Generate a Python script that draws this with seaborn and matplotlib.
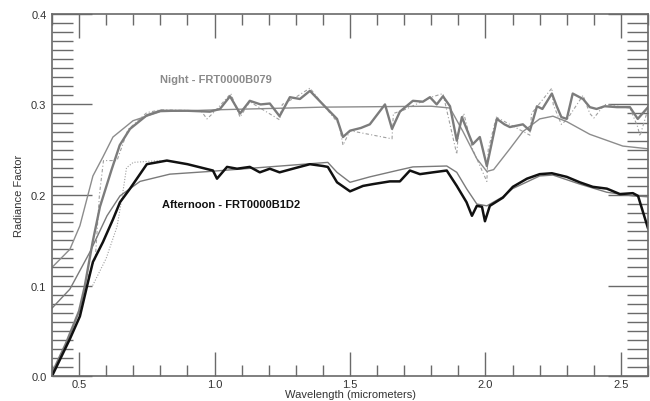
import numpy as np
import pandas as pd
import seaborn as sns
import matplotlib
matplotlib.use("Agg")
import matplotlib.pyplot as plt
from matplotlib.ticker import MultipleLocator

# ---------------- data ----------------
night_x = [0.40, 0.45, 0.50, 0.52, 0.55, 0.577, 0.62, 0.65, 0.688, 0.75, 0.80, 0.90, 0.983,
           1.02, 1.057, 1.094, 1.13, 1.17, 1.204, 1.24, 1.278, 1.315, 1.352, 1.40, 1.452,
           1.474, 1.50, 1.54, 1.573, 1.629, 1.655, 1.684, 1.732, 1.769, 1.795, 1.82, 1.843,
           1.869, 1.894, 1.913, 1.953, 1.979, 2.005, 2.042, 2.07, 2.09, 2.138, 2.164, 2.19,
           2.21, 2.245, 2.263, 2.28, 2.30, 2.322, 2.36, 2.385, 2.41, 2.44, 2.485, 2.533,
           2.562, 2.60]
night_y = [0.003, 0.035, 0.072, 0.098, 0.148, 0.187, 0.228, 0.255, 0.273, 0.288, 0.293, 0.293, 0.292,
           0.295, 0.309, 0.290, 0.304, 0.300, 0.301, 0.287, 0.308, 0.306, 0.315, 0.300, 0.284,
           0.264, 0.271, 0.274, 0.278, 0.300, 0.273, 0.292, 0.304, 0.303, 0.308, 0.300, 0.309,
           0.298, 0.260, 0.286, 0.256, 0.264, 0.232, 0.284, 0.278, 0.275, 0.278, 0.271, 0.298,
           0.295, 0.312, 0.298, 0.286, 0.284, 0.312, 0.306, 0.297, 0.295, 0.298, 0.297, 0.297,
           0.284, 0.297]

night_model_x = [0.40, 0.466, 0.503, 0.551, 0.588, 0.625, 0.699, 0.80, 1.00, 1.40, 1.80, 1.869,
                 1.917, 1.968, 2.005, 2.03, 2.09, 2.138, 2.20, 2.249, 2.30, 2.385, 2.507, 2.60]
night_model_y = [0.120, 0.140, 0.166, 0.221, 0.242, 0.264, 0.282, 0.292, 0.294, 0.297, 0.298, 0.296,
                 0.270, 0.240, 0.226, 0.228, 0.251, 0.270, 0.284, 0.287, 0.281, 0.267, 0.254, 0.251]

aft_x = [0.40, 0.466, 0.503, 0.533, 0.551, 0.588, 0.625, 0.651, 0.688, 0.75, 0.824, 0.90, 0.994,
         1.009, 1.046, 1.083, 1.13, 1.167, 1.204, 1.24, 1.289, 1.352, 1.40, 1.418, 1.452,
         1.50, 1.548, 1.585, 1.647, 1.684, 1.721, 1.758, 1.806, 1.857, 1.894, 1.93, 1.95,
         1.968, 1.987, 1.998, 2.016, 2.064, 2.101, 2.153, 2.20, 2.245, 2.30, 2.348, 2.396,
         2.448, 2.496, 2.544, 2.563, 2.60]
aft_y = [0.000, 0.041, 0.066, 0.104, 0.126, 0.148, 0.173, 0.192, 0.207, 0.234, 0.238, 0.234, 0.227,
         0.218, 0.231, 0.229, 0.231, 0.225, 0.229, 0.225, 0.229, 0.234, 0.232, 0.231, 0.214,
         0.204, 0.210, 0.212, 0.215, 0.215, 0.227, 0.223, 0.225, 0.227, 0.210, 0.192, 0.177,
         0.188, 0.187, 0.171, 0.188, 0.197, 0.209, 0.218, 0.223, 0.224, 0.220, 0.214, 0.209,
         0.207, 0.201, 0.202, 0.199, 0.163]

aft_model_x = [0.40, 0.466, 0.54, 0.603, 0.651, 0.725, 0.835, 0.983, 1.20, 1.418, 1.452, 1.50,
               1.573, 1.673, 1.732, 1.857, 1.894, 1.93, 1.968, 2.005, 2.064, 2.10, 2.20, 2.249,
               2.348, 2.448, 2.544, 2.60]
aft_model_y = [0.075, 0.096, 0.137, 0.177, 0.199, 0.215, 0.223, 0.226, 0.231, 0.236, 0.225, 0.214,
               0.220, 0.227, 0.231, 0.232, 0.225, 0.207, 0.190, 0.188, 0.198, 0.207, 0.221, 0.222,
               0.212, 0.203, 0.199, 0.198]

alt1_x = [0.52, 0.56, 0.575, 0.59, 0.64, 0.68, 0.75, 0.80, 0.95, 0.972, 1.00, 1.06, 1.094,
          1.13, 1.24, 1.25, 1.30, 1.352, 1.40, 1.46, 1.474, 1.50, 1.655, 1.66, 1.70, 1.80,
          1.843, 1.894, 1.90, 1.92, 1.953, 2.005, 2.01, 2.04, 2.164, 2.17, 2.245, 2.25, 2.28,
          2.30, 2.36, 2.385, 2.40, 2.44, 2.533, 2.562, 2.57, 2.60]
alt1_y = [0.100, 0.130, 0.200, 0.238, 0.238, 0.272, 0.291, 0.294, 0.293, 0.284, 0.292, 0.312, 0.286,
          0.303, 0.283, 0.300, 0.308, 0.318, 0.300, 0.278, 0.255, 0.271, 0.262, 0.290, 0.294, 0.308,
          0.312, 0.245, 0.270, 0.290, 0.250, 0.215, 0.250, 0.286, 0.266, 0.290, 0.318, 0.300, 0.278,
          0.283, 0.310, 0.290, 0.285, 0.300, 0.296, 0.275, 0.265, 0.295]

alt2_x = [0.55, 0.60, 0.64, 0.66, 0.675, 0.70, 0.75, 0.80]
alt2_y = [0.100, 0.130, 0.165, 0.200, 0.230, 0.236, 0.237, 0.238]

x_ticks = [0.5, 1.0, 1.5, 2.0, 2.5]
x_tick_labels = ["0.5", "1.0", "1.5", "2.0", "2.5"]
y_ticks = [0.0, 0.1, 0.2, 0.3, 0.4]
y_tick_labels = ["0.0", "0.1", "0.2", "0.3", "0.4"]

night_label = "Night - FRT0000B079"
aft_label = "Afternoon - FRT0000B1D2"

# ---------------- plot ----------------
sns.set_style("white")
plt.rcParams["font.family"] = ["Liberation Sans", "DejaVu Sans"]

fig = plt.figure(figsize=(6.5, 4.02), dpi=100)
ax = fig.add_axes([0.08, 0.062, 0.917, 0.901])

def draw(x, y, **kw):
    df = pd.DataFrame({"x": x, "y": y})
    sns.lineplot(data=df, x="x", y="y", ax=ax, sort=False, estimator=None, **kw)

draw(alt1_x, alt1_y, color="#a0a0a0", linewidth=0.8, linestyle=(0, (3, 2, 1, 2)))
draw(alt2_x, alt2_y, color="#a0a0a0", linewidth=0.8, linestyle=(0, (1, 1.5)))
draw(night_model_x, night_model_y, color="#8c8c8c", linewidth=1.0)
draw(aft_model_x, aft_model_y, color="#7a7a7a", linewidth=1.0)
draw(night_x, night_y, color="#7c7c7c", linewidth=1.7)
draw(aft_x, aft_y, color="#111111", linewidth=1.8)

ax.text(0.798, 0.328, night_label, color="#8a8a8a", fontsize=8, fontweight="bold",
        va="center", ha="left")
ax.text(0.806, 0.190, aft_label, color="#111111", fontsize=8, fontweight="bold",
        va="center", ha="left")

ax.set_xlim(0.4, 2.6)
ax.set_ylim(0.0, 0.4)
ax.set_xticks(x_ticks)
ax.set_xticklabels(x_tick_labels)
ax.set_yticks(y_ticks)
ax.set_yticklabels(y_tick_labels)
ax.xaxis.set_minor_locator(MultipleLocator(0.1))
ax.yaxis.set_minor_locator(MultipleLocator(0.01))

spine_c = "#6a6a6a"
for s in ax.spines.values():
    s.set_visible(True)
    s.set_color(spine_c)
    s.set_linewidth(1.2)

ax.tick_params(axis="x", which="major", direction="in", length=17, width=1.0, color=spine_c,
               top=True, bottom=True, labelsize=8, labelcolor="#333333", pad=2)
ax.tick_params(axis="x", which="minor", direction="in", length=8, width=1.0, color=spine_c,
               top=True, bottom=True)
ax.tick_params(axis="y", which="major", direction="in", length=29, width=1.0, color=spine_c,
               left=True, right=True, labelsize=8, labelcolor="#333333", pad=4)
ax.tick_params(axis="y", which="minor", direction="in", length=15, width=1.0, color=spine_c,
               left=True, right=True)

ax.set_xlabel("Wavelength (micrometers)", fontsize=8, color="#333333", labelpad=0)
ax.set_ylabel("Radiance Factor", fontsize=8, color="#333333", labelpad=5)

fig.savefig("out.png", dpi=100)
